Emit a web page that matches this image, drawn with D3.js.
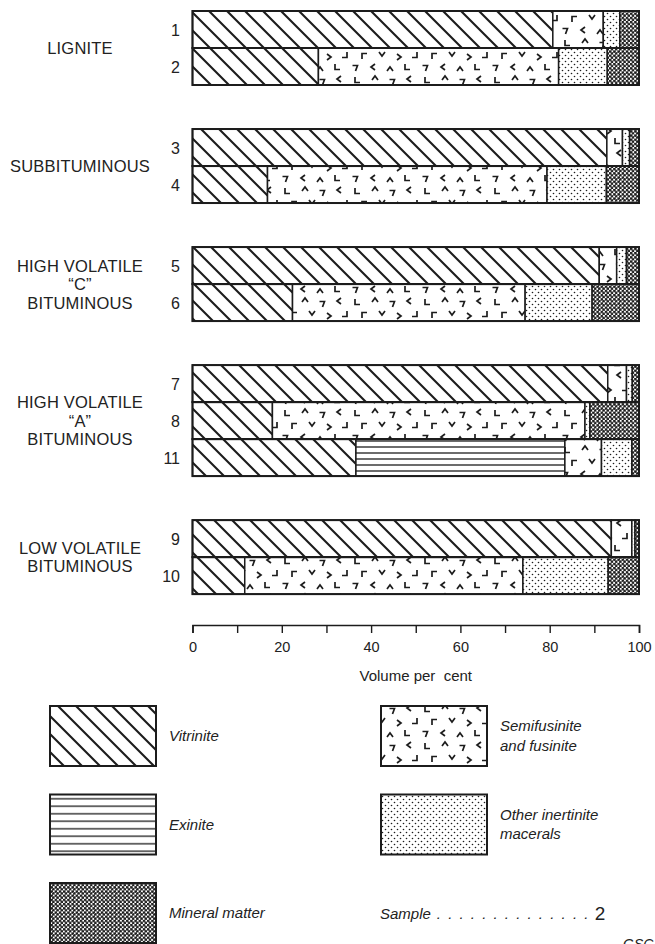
<!DOCTYPE html>
<html>
<head>
<meta charset="utf-8">
<script src="https://cdn.jsdelivr.net/npm/d3@7"></script>
<style>
  body { margin: 0; background: #fff; }
  text { font-family: "Liberation Sans", Arial, Helvetica, sans-serif; fill: #222; }
</style>
</head>
<body>
<div id="chart"></div>
<script>
// Tamaño de la figura
const width = 655;
const height = 944;

// Muestras en el orden en que aparecen, y el rango al que pertenece cada una
const samples = ["1", "2", "3", "4", "5", "6", "7", "8", "11", "9", "10"];
const sampleRank = [0, 0, 1, 1, 2, 2, 3, 3, 3, 4, 4];
const rankNames = [
  ["LIGNITE"],
  ["SUBBITUMINOUS"],
  ["HIGH VOLATILE", "“C”", "BITUMINOUS"],
  ["HIGH VOLATILE", "“A”", "BITUMINOUS"],
  ["LOW VOLATILE", "BITUMINOUS"]
];

// Composición (volumen %)
const vitrinite    = [80.7, 28.2, 92.8, 16.8, 91.1, 22.4, 93.0, 17.9, 36.6, 93.8, 11.7];
const exinite      = [0,    0,    0,    0,    0,    0,    0,    0,    46.8, 0,    0];
const semifusinite = [11.3, 53.8, 3.5,  62.6, 3.9,  52.1, 4.2,  70.0, 8.2,  4.6,  62.3];
const otherInert   = [3.7,  10.9, 1.6,  13.3, 2.2,  15.0, 1.3,  1.1,  6.8,  0.7,  19.1];
const mineral      = [4.3,  7.1,  2.1,  7.3,  2.8,  10.5, 1.5,  11.0, 1.6,  0.9,  6.9];

// Eje
const axisTicks = [0, 10, 20, 30, 40, 50, 60, 70, 80, 90, 100];
const axisLabels = [0, 20, 40, 60, 80, 100];
const axisTitle = "Volume per  cent";

// Leyenda
const keys = ["vitrinite", "exinite", "semifusinite", "other", "mineral"];
const legendKeys = ["vitrinite", "exinite", "mineral", "semifusinite", "other"];
const legendLabels = [["Vitrinite"], ["Exinite"], ["Mineral matter"], ["Semifusinite", "and fusinite"], ["Other inertinite", "macerals"]];
const legendCol = [0, 0, 0, 1, 1];
const legendRow = [0, 1, 2, 0, 1];

const ink = "#1c1c1c";

const svg = d3.select("#chart").append("svg")
  .attr("width", width)
  .attr("height", height);

const defs = svg.append("defs");

// Tramas
function hatchPattern(id, size) {
  const p = defs.append("pattern").attr("id", id)
    .attr("patternUnits", "userSpaceOnUse")
    .attr("width", size).attr("height", size);
  p.append("rect").attr("width", size).attr("height", size).attr("fill", "#fff");
  p.append("path")
    .attr("d", `M0,0L${size},${size}M${-2},${size - 2}L2,${size + 2}M${size - 2},-2L${size + 2},2`)
    .attr("stroke", ink).attr("stroke-width", 2.1);
}

function linePattern(id, gap) {
  const p = defs.append("pattern").attr("id", id)
    .attr("patternUnits", "userSpaceOnUse")
    .attr("width", 10).attr("height", gap);
  p.append("rect").attr("width", 10).attr("height", gap).attr("fill", "#fff");
  p.append("line").attr("x1", 0).attr("x2", 10).attr("y1", gap / 2).attr("y2", gap / 2)
    .attr("stroke", ink).attr("stroke-width", 1.3);
}

function dotPattern(id, size, r, bg) {
  const p = defs.append("pattern").attr("id", id)
    .attr("patternUnits", "userSpaceOnUse")
    .attr("width", size).attr("height", size);
  p.append("rect").attr("width", size).attr("height", size).attr("fill", bg);
  [[size / 4, size / 4], [size * 3 / 4, size * 3 / 4]].forEach(([cx, cy]) => {
    p.append("circle").attr("cx", cx).attr("cy", cy).attr("r", r).attr("fill", ink);
  });
}

// Pequeños trazos en V / L / 7 para la semifusinita
const marks = {
  "^": "M-3,2L0,-2L3,2",
  "v": "M-3,-2L0,2L3,-2",
  "<": "M2,-3L-2,0L2,3",
  ">": "M-2,-3L2,0L-2,3",
  "7": "M-2.5,-2.5L2.5,-2.5L0.5,3",
  "L": "M-2,-3L-2,2.5L3,2.5",
  "J": "M2,-3L2,2.5L-3,2.5",
  "r": "M-2,3L-2,-2.5L3,-2.5"
};
function chevronPattern(id) {
  const p = defs.append("pattern").attr("id", id)
    .attr("patternUnits", "userSpaceOnUse")
    .attr("width", 70).attr("height", 37);
  p.append("rect").attr("width", 70).attr("height", 37).attr("fill", "#fff");
  const spots = [
    [7, 6, "L"], [25, 4, "^"], [42, 8, "7"], [59, 5, "<"],
    [14, 19, "r"], [32, 17, "v"], [49, 20, ">"], [65, 18, "J"],
    [5, 31, "7"], [23, 30, "<"], [40, 32, "^"], [57, 30, "L"]
  ];
  spots.forEach(([mx, my, m]) => {
    p.append("path").attr("d", marks[m])
      .attr("transform", `translate(${mx},${my})`)
      .attr("fill", "none").attr("stroke", ink).attr("stroke-width", 1.7);
  });
}

hatchPattern("p-vitrinite", 18);
linePattern("p-exinite", 6);
linePattern("p-exinite-leg", 7.5);
chevronPattern("p-semifusinite");
dotPattern("p-other", 6, 0.8, "#fff");
dotPattern("p-mineral", 4.2, 1.45, "#fff");

const fillFor = { vitrinite: "p-vitrinite", exinite: "p-exinite", semifusinite: "p-semifusinite", other: "p-other", mineral: "p-mineral" };

// Escalas
const x = d3.scaleLinear().domain([0, 100]).range([192.5, 639]);
const rowH = 37;
const gapSlots = 1.19;
const slot = samples.map((s, i) => i + sampleRank[i] * gapSlots);
const totalSlots = samples.length + (rankNames.length - 1) * gapSlots;
const y = d3.scaleLinear().domain([0, totalSlots]).range([11, 11 + rowH * totalSlots]);

// Tabla para d3.stack
const table = samples.map((s, i) => ({
  sample: s, slot: slot[i],
  vitrinite: vitrinite[i], exinite: exinite[i], semifusinite: semifusinite[i],
  other: otherInert[i], mineral: mineral[i]
}));
const series = d3.stack().keys(keys)(table);

// Barras
const barG = svg.append("g");
series.forEach(layer => {
  barG.selectAll(null)
    .data(layer.filter(d => d[1] - d[0] > 0))
    .enter().append("rect")
    .attr("x", d => x(d[0]))
    .attr("width", d => x(d[1]) - x(d[0]))
    .attr("y", d => y(d.data.slot))
    .attr("height", d => y(d.data.slot + 1) - y(d.data.slot))
    .attr("fill", `url(#${fillFor[layer.key]})`)
    .attr("stroke", ink)
    .attr("stroke-width", 1.5);
});

// Contorno exterior de cada barra
barG.selectAll(".outline")
  .data(table)
  .enter().append("rect")
  .attr("x", x(0))
  .attr("width", x(100) - x(0))
  .attr("y", d => y(d.slot))
  .attr("height", y(1) - y(0))
  .attr("fill", "none")
  .attr("stroke", ink)
  .attr("stroke-width", 2);

// Número de muestra
svg.selectAll(".num")
  .data(table)
  .enter().append("text")
  .attr("x", 180)
  .attr("y", d => y(d.slot + 0.5) + 6)
  .attr("text-anchor", "end")
  .style("font-size", "16px")
  .text(d => d.sample);

// Nombres de rango
rankNames.forEach((lines, g) => {
  const idx = d3.range(samples.length).filter(i => sampleRank[i] === g);
  const top = y(slot[idx[0]]);
  const bottom = y(slot[idx[idx.length - 1]] + 1);
  const mid = (top + bottom) / 2;
  const lh = 18.5;
  lines.forEach((ln, k) => {
    svg.append("text")
      .attr("x", 80)
      .attr("y", mid + (k - (lines.length - 1) / 2) * lh + 6)
      .attr("text-anchor", "middle")
      .style("font-size", "16.5px")
      .style("letter-spacing", "0.2px")
      .text(ln);
  });
});

// Eje horizontal
const axis = d3.axisBottom(x)
  .tickValues(axisTicks)
  .tickSize(8)
  .tickSizeOuter(8)
  .tickPadding(9)
  .tickFormat(d => axisLabels.includes(d) ? d : "");

const axisG = svg.append("g")
  .attr("transform", "translate(0,625)")
  .call(axis);
axisG.select(".domain").attr("stroke", ink).attr("stroke-width", 1.6);
axisG.selectAll(".tick line").attr("stroke", ink).attr("stroke-width", 1.4);
axisG.selectAll(".tick text")
  .style("font-size", "14.5px")
  .style("font-family", "'Liberation Sans', Arial, sans-serif")
  .attr("fill", "#222");

svg.append("text")
  .attr("x", (x(0) + x(100)) / 2)
  .attr("y", 681)
  .attr("text-anchor", "middle")
  .style("font-size", "15px")
  .style("white-space", "pre")
  .text(axisTitle);

// Leyenda
const legColX = [50, 381];
const legRowY = [706, 794.5, 883];
const boxW = 106, boxH = 60;

legendKeys.forEach((k, i) => {
  const bx = legColX[legendCol[i]];
  const by = legRowY[legendRow[i]];
  const pat = k === "exinite" ? "p-exinite-leg" : fillFor[k];
  svg.append("rect")
    .attr("x", bx).attr("y", by)
    .attr("width", boxW).attr("height", boxH)
    .attr("fill", `url(#${pat})`)
    .attr("stroke", ink).attr("stroke-width", 2);
  const lines = legendLabels[i];
  lines.forEach((ln, j) => {
    svg.append("text")
      .attr("x", bx + boxW + 13)
      .attr("y", by + boxH / 2 + (j - (lines.length - 1) / 2) * 19.5 + 5)
      .style("font-size", "15px")
      .style("font-style", "italic")
      .text(ln);
  });
});

// Clave de la muestra
const sampleKey = svg.append("text")
  .attr("x", 380)
  .attr("y", legRowY[2] + boxH / 2 + 6)
  .style("font-size", "15px")
  .style("font-style", "italic");
sampleKey.append("tspan").text("Sample");
sampleKey.append("tspan")
  .attr("dx", 6)
  .style("letter-spacing", "1.5px")
  .text(". . . . . . . . . . . . . .");
svg.append("text")
  .attr("x", 600)
  .attr("y", legRowY[2] + boxH / 2 + 7)
  .attr("text-anchor", "middle")
  .style("font-size", "19px")
  .text("2");

svg.append("text")
  .attr("x", 623)
  .attr("y", 949)
  .style("font-size", "14px")
  .style("font-style", "italic")
  .text("GSC");
</script>
</body>
</html>
